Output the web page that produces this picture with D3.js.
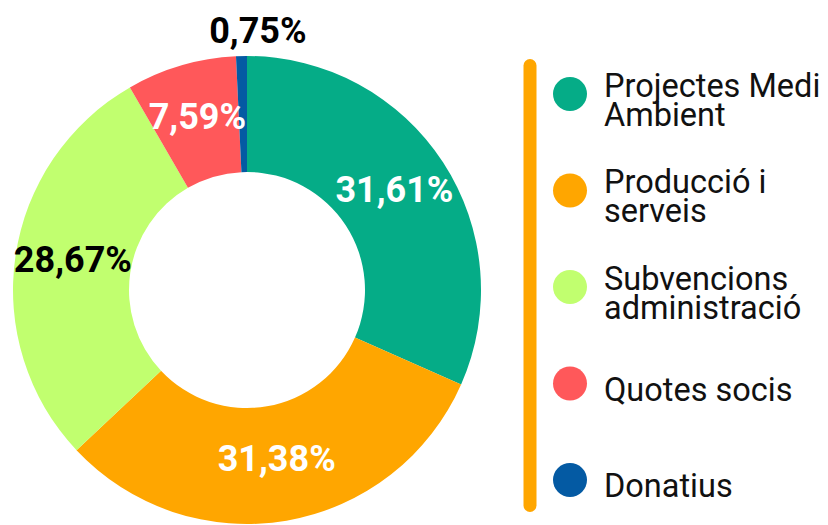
<!DOCTYPE html>
<html>
<head>
<meta charset="utf-8">
<script src="https://cdn.jsdelivr.net/npm/d3@7"></script>
<style>
  html, body { margin: 0; padding: 0; background: #fff; }
  svg { display: block; font-family: Roboto, "Noto Sans", sans-serif; }
</style>
</head>
<body>
<script>
const w = 828;
const h = 525;

// data
const categories = ["Projectes Medi Ambient", "Producció i serveis", "Subvencions administració", "Quotes socis", "Donatius"];
const percents = [31.61, 31.38, 28.67, 7.59, 0.75];
const colors = ["#05ac87", "#ffa600", "#c1ff6f", "#ff585a", "#045aa3"];
const labelColors = ["#fff", "#fff", "#000", "#fff", "#000"];

const cx = 247, cy = 290;
const outerR = 234, innerR = 118;

const svg = d3.select("body")
    .append("svg")
    .attr("width", w)
    .attr("height", h)
    ;

const data = categories.map((c, i) => ({ name: c, value: percents[i], color: colors[i], labelColor: labelColors[i] }));

const pie = d3.pie()
    .value(d => d.value)
    .sort(null)
    ;

const arc = d3.arc()
    .innerRadius(innerR)
    .outerRadius(outerR)
    ;

const outerArc = d3.arc()
    .innerRadius(outerR + 26)
    .outerRadius(outerR + 26)
    ;

const arcs = pie(data);

const g = svg.append("g")
    .attr("transform", "translate(" + cx + "," + cy + ")")
    ;

g.selectAll("path")
    .data(arcs)
    .enter()
    .append("path")
    .attr("d", arc)
    .attr("fill", d => d.data.color)
    ;

const fmt = v => v.toFixed(2).replace(".", ",") + "%";

g.selectAll("text.pct")
    .data(arcs)
    .enter()
    .append("text")
    .attr("class", "pct")
    .attr("transform", d => {
        // tiny slices get their label outside the ring
        const p = d.data.value < 2 ? outerArc.centroid(d) : arc.centroid(d);
        return "translate(" + p[0] + "," + p[1] + ")";
    })
    .attr("dx", d => d.data.value < 2 ? 17 : 0)
    .attr("dy", d => d.data.value < 2 ? "0.35em" : "0.22em")
    .attr("text-anchor", "middle")
    .attr("font-size", 36)
    .attr("font-weight", 700)
    .attr("fill", d => d.data.labelColor)
    .text(d => fmt(d.data.value))
    ;

// legend
const legendX = 530;
const yLegend = d3.scalePoint()
    .domain(categories)
    .range([94, 480])
    ;

svg.append("line")
    .attr("x1", legendX)
    .attr("x2", legendX)
    .attr("y1", 65.5)
    .attr("y2", 505.5)
    .attr("stroke", "#ffa600")
    .attr("stroke-width", 13)
    .attr("stroke-linecap", "round")
    ;

const items = svg.selectAll("g.item")
    .data(data)
    .enter()
    .append("g")
    .attr("class", "item")
    .attr("transform", d => "translate(" + (legendX + 40) + "," + yLegend(d.name) + ")")
    ;

items.append("circle")
    .attr("r", 17)
    .attr("fill", d => d.color)
    ;

const lineH = 29;
const maxW = 226;
items.each(function(d) {
    const t = d3.select(this).append("text")
        .attr("x", 34)
        .attr("font-size", 32.5)
        .attr("fill", "#111")
        ;
    // simple word wrap
    const words = d.name.split(" ");
    let lines = [];
    let cur = [];
    let probe = t.append("tspan");
    words.forEach(wd => {
        const test = cur.concat([wd]).join(" ");
        probe.text(test);
        if (probe.node().getComputedTextLength() > maxW && cur.length) {
            lines.push(cur.join(" "));
            cur = [wd];
        } else {
            cur.push(wd);
        }
    });
    lines.push(cur.join(" "));
    probe.remove();
    const first = 6 + 11 - (lines.length - 1) * lineH / 2;
    lines.forEach((ln, i) => {
        t.append("tspan")
            .attr("x", 34)
            .attr("y", first + i * lineH)
            .text(ln);
    });
});
</script>
</body>
</html>
